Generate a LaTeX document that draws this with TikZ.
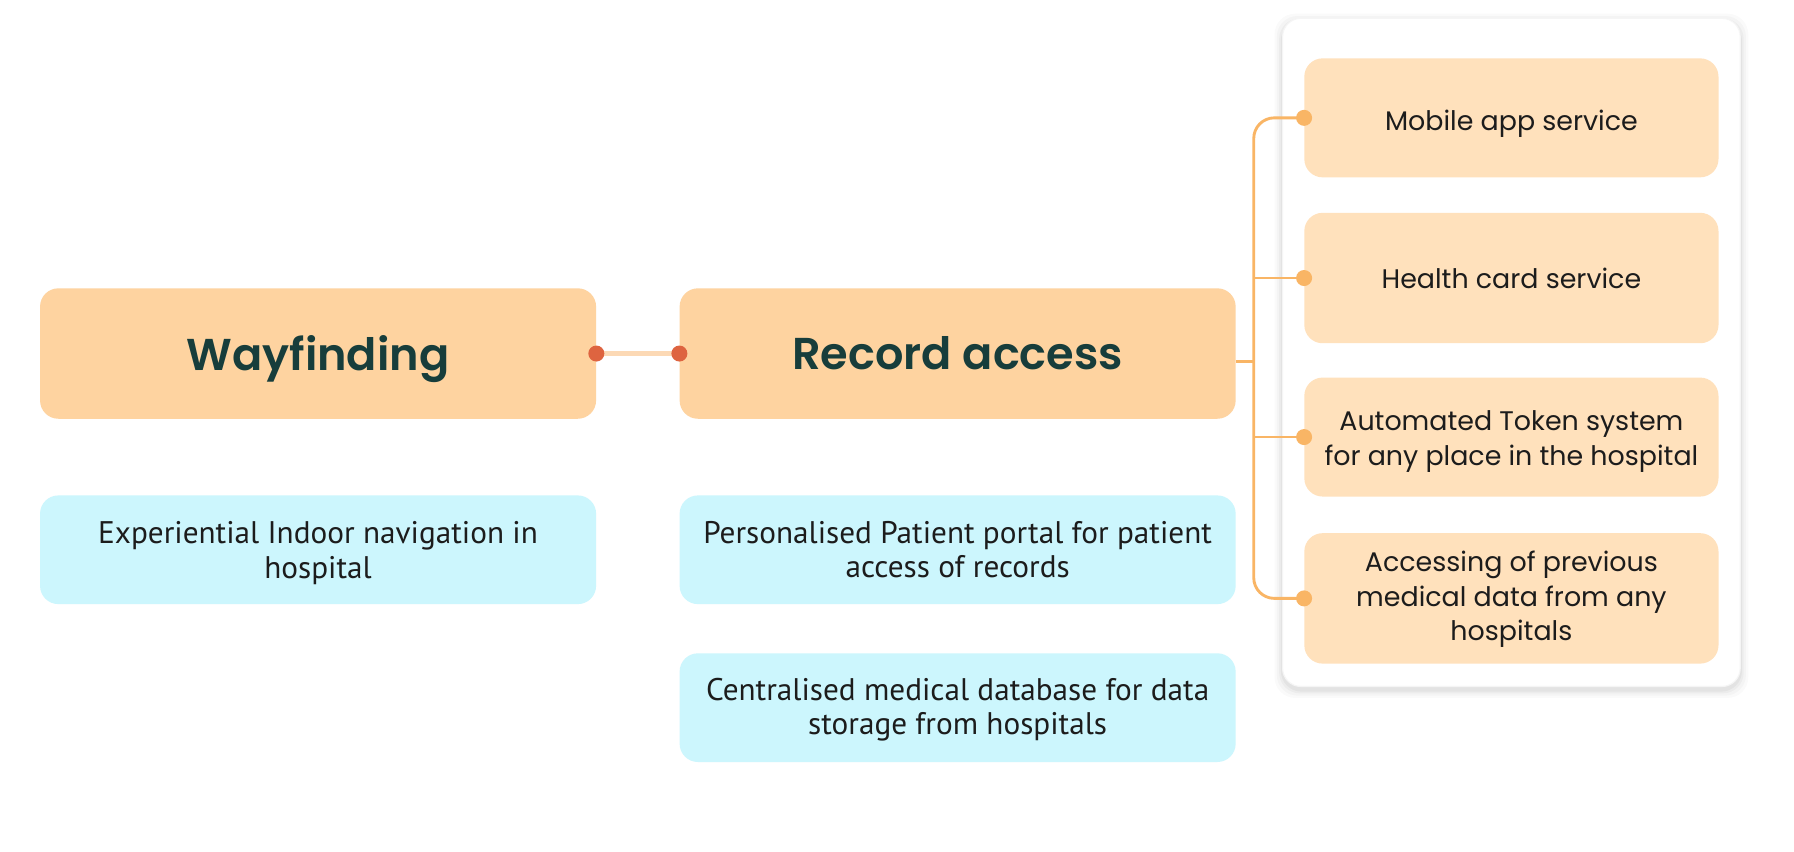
\documentclass[tikz,border=0pt]{standalone}
\usepackage{fontspec}
\setmainfont{Poppins}
\newfontfamily\bluefont{PT Sans}
\newfontfamily\titlefont{Poppins SemiBold}
\newcommand\lowered[2]{\raisebox{-#1}[\height][\depth]{#2}}
\definecolor{titlefill}{HTML}{FED3A0}
\definecolor{subfill}{HTML}{FFE1BC}
\definecolor{bluefill}{HTML}{CCF6FD}
\definecolor{titletext}{HTML}{173D3B}
\definecolor{bodytext}{HTML}{1C1C1C}
\definecolor{dotred}{HTML}{DE6440}
\definecolor{linkpale}{HTML}{FCD9B5}
\definecolor{branch}{HTML}{F9B565}
\tikzset{
  titlebox/.style={fill=titlefill, rounded corners=16pt, minimum width=486pt, minimum height=114pt, inner sep=0pt,
    text=titletext, font=\titlefont\fontsize{39}{46}\selectfont},
  bluebox/.style={fill=bluefill, rounded corners=16pt, minimum width=486pt, minimum height=95pt, inner sep=0pt,
    align=center, text=bodytext, font=\bluefont\fontsize{27.3}{30}\selectfont},
  subbox/.style={fill=subfill, rounded corners=16pt, minimum width=362pt, inner sep=0pt,
    align=center, text=bodytext, font=\fontsize{23.5}{30}\selectfont},
  panelbox/.style={fill=white, rounded corners=16pt, draw=black!4, line width=1pt},
  paleline/.style={draw=linkpale, line width=4pt},
  branchline/.style={draw=branch, line width=2.5pt},
}
\begin{document}
\begin{tikzpicture}[x=1pt, y=-1pt]
\fill[white] (0,0) rectangle (1568,744);
\useasboundingbox (0,0) rectangle (1568,744);
% panel with soft shadow
\foreach \o/\a in {7/0.02,5/0.025,3/0.03,1.5/0.035}{
  \fill[black, opacity=\a, rounded corners=18pt] (1121-\o,16-\o+3) rectangle (1521+\o,600+\o+3);
}
\node[panelbox, minimum width=400pt, minimum height=584pt] (panel) at (1321,308) {};
% title boxes
\node[titlebox] (way) at (278,309) {\lowered{5pt}{Wayfinding}};
\node[titlebox] (rec) at (837,309) {Record access};
% blue boxes
\node[bluebox] (b1) at (278,480.5) {\lowered{3pt}{Experiential Indoor navigation in}\\\lowered{3pt}{hospital}};
\node[bluebox] (b2) at (837,480.5) {Personalised Patient portal for patient\\access of records};
\node[bluebox] (b3) at (837,618.5) {\lowered{2pt}{Centralised medical database for data}\\\lowered{2pt}{storage from hospitals}};
% sub boxes
\node[subbox, minimum height=104pt] (r1) at (1321,103) {\lowered{5pt}{Mobile app service}};
\node[subbox, minimum height=114pt] (r2) at (1321,243) {Health card service};
\node[subbox, minimum height=104pt] (r3) at (1321,382) {\lowered{4pt}{Automated Token system}\\\lowered{4pt}{for any place in the hospital}};
\node[subbox, minimum height=114pt] (r4) at (1321,523) {\lowered{1pt}{Accessing of previous}\\\lowered{1pt}{medical data from any}\\\lowered{1pt}{hospitals}};
% link between titles
\draw[paleline] (way.east) -- (rec.west);
\fill[dotred] (way.east) circle[radius=7pt];
\fill[dotred] (rec.west) circle[radius=7pt];
% branches
\draw[branchline, rounded corners=18pt] (r1.west) -- ++(-44,0) |- (r4.west);
\draw[branchline] (r2.west) -- ++(-44,0);
\draw[branchline] (r3.west) -- ++(-44,0);
\draw[branchline] ([yshift=-7pt]rec.east) -- ++(17,0);
\foreach \n in {r1,r2,r3,r4}{
  \fill[branch] (\n.west) circle[radius=7pt];
}
\end{tikzpicture}
\end{document}
